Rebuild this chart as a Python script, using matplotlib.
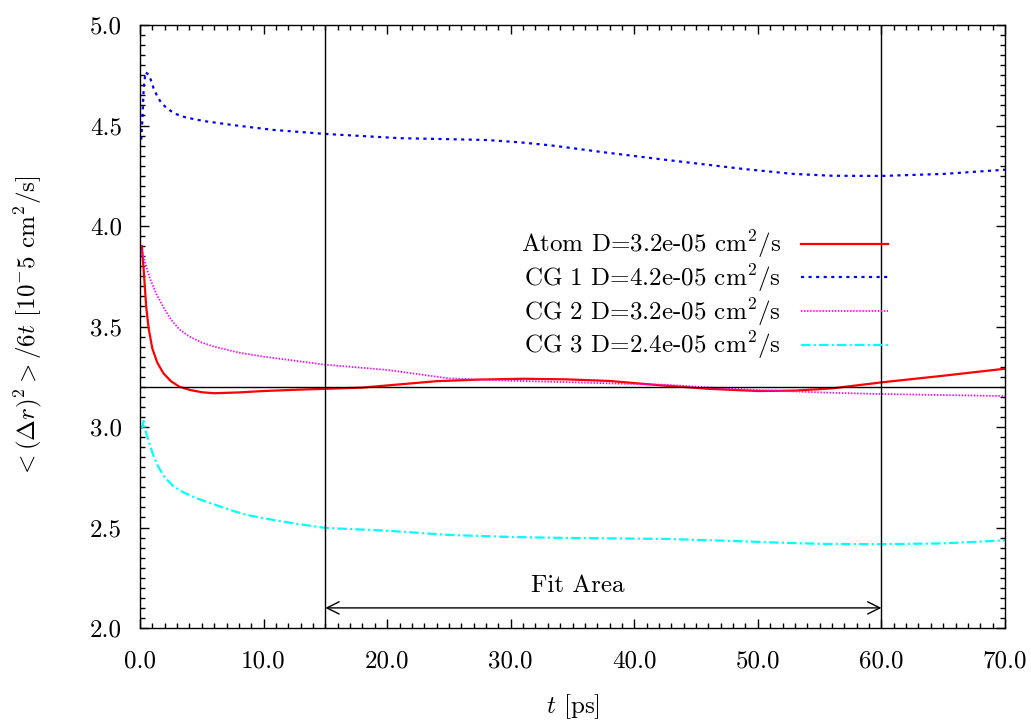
import numpy as np
import matplotlib
matplotlib.use('Agg')
import matplotlib.pyplot as plt
from matplotlib import rcParams
from matplotlib.ticker import MultipleLocator, FormatStrFormatter

rcParams['font.family'] = 'serif'
rcParams['font.serif'] = ['cmr10', 'DejaVu Serif']
rcParams['mathtext.fontset'] = 'cm'
rcParams['axes.formatter.use_mathtext'] = True
rcParams['font.size'] = 18

# Atom
t_atom = [0.15, 0.3, 0.5, 0.7, 1.0, 1.4, 1.9, 2.5, 3.2, 4.0, 5.0, 6.0, 8.0, 10.0, 12.5, 15.0,
          18.0, 21.0, 24.0, 27.5, 31.0, 34.5, 38.0, 42.0, 46.0, 50.0, 53.0, 56.0, 60.0, 65.0, 70.0]
d_atom = [3.90, 3.78, 3.60, 3.49, 3.39, 3.32, 3.267, 3.228, 3.20, 3.185, 3.173, 3.168, 3.172, 3.179, 3.185, 3.19,
          3.196, 3.212, 3.228, 3.236, 3.24, 3.237, 3.229, 3.208, 3.19, 3.179, 3.181, 3.192, 3.222, 3.255, 3.29]

# CG 1
t_cg1 = [0.1, 0.2, 0.3, 0.45, 0.75, 1.1, 1.4, 1.7, 2.1, 2.5, 3.0, 3.6, 4.5, 5.4, 7.8, 10.8, 15.0, 21.0, 28.0, 30.8,
         33.4, 37.5, 42.3, 48.8, 52.9, 56.0, 60.0, 65.0, 70.0]
d_cg1 = [4.43, 4.54, 4.69, 4.765, 4.75, 4.685, 4.645, 4.615, 4.59, 4.572, 4.555, 4.542, 4.53, 4.52, 4.50, 4.478,
         4.458, 4.437, 4.428, 4.416, 4.40, 4.367, 4.331, 4.284, 4.259, 4.25, 4.249, 4.259, 4.28]

# CG 2
t_cg2 = [0.15, 0.4, 0.8, 1.3, 1.9, 2.5, 3.2, 4.0, 5.0, 6.0, 8.0, 10.0, 12.5, 15.0, 20.0, 25.0, 30.0,
         33.4, 38.0, 42.6, 46.0, 50.0, 55.0, 60.0, 65.0, 70.0]
d_cg2 = [3.88, 3.82, 3.74, 3.665, 3.595, 3.535, 3.485, 3.45, 3.42, 3.40, 3.37, 3.35, 3.33, 3.31, 3.284, 3.242, 3.23,
         3.225, 3.217, 3.21, 3.197, 3.184, 3.172, 3.164, 3.159, 3.154]

# CG 3
t_cg3 = [0.15, 0.3, 0.5, 0.8, 1.1, 1.5, 2.0, 2.7, 3.5, 4.6, 6.0, 7.3, 8.5, 10.0, 12.5, 15.0, 20.0, 25.0,
         30.0, 33.4, 38.0, 42.6, 47.5, 52.0, 55.6, 60.0, 65.0, 70.0]
d_cg3 = [2.99, 3.03, 2.97, 2.91, 2.855, 2.80, 2.75, 2.705, 2.675, 2.645, 2.615, 2.587, 2.565, 2.546, 2.52, 2.498,
         2.484, 2.463, 2.453, 2.449, 2.446, 2.443, 2.434, 2.424, 2.418, 2.417, 2.421, 2.436]

labels = [r'Atom D=3.2e-05 cm$^2$/s', r'CG 1 D=4.2e-05 cm$^2$/s',
          r'CG 2 D=3.2e-05 cm$^2$/s', r'CG 3 D=2.4e-05 cm$^2$/s']

d_fit = 3.2
fit_start, fit_end = 15.0, 60.0

fig = plt.figure(figsize=(10.31, 7.24), dpi=100)
ax = fig.add_axes([140/1031., 1 - 628/724., 865/1031., 603/724.])

ax.plot(t_atom, d_atom, '-', color='#ff0000', lw=1.6, label=labels[0])
ax.plot(t_cg1, d_cg1, color='#0000ff', lw=1.6, dashes=(1.4, 2.0), label=labels[1])
ax.plot(t_cg2, d_cg2, color='#ff00ff', lw=1.3, dashes=(0.8, 0.9), label=labels[2])
ax.plot(t_cg3, d_cg3, color='#00ffff', lw=1.6, dashes=(4.3, 1.4, 1.0, 1.4), label=labels[3])

ax.axhline(d_fit, color='k', lw=1.0)
ax.axvline(fit_start, color='k', lw=1.0)
ax.axvline(fit_end, color='k', lw=1.0)
ax.annotate('', xy=(fit_start, 2.1), xytext=(fit_end, 2.1),
            arrowprops=dict(arrowstyle='<->', color='k', lw=1.0, shrinkA=0, shrinkB=0,
                            mutation_scale=22))
ax.text(35.4, 2.21, 'Fit Area', ha='center', va='center')

ax.set_xlim(0, 70)
ax.set_ylim(2.0, 5.0)
ax.xaxis.set_major_locator(MultipleLocator(10))
ax.xaxis.set_minor_locator(MultipleLocator(1))
ax.yaxis.set_major_locator(MultipleLocator(0.5))
ax.yaxis.set_minor_locator(MultipleLocator(0.05))
ax.xaxis.set_major_formatter(FormatStrFormatter('%.1f'))
ax.yaxis.set_major_formatter(FormatStrFormatter('%.1f'))
ax.tick_params(which='both', direction='in', top=True, right=True, width=1.0)
ax.tick_params(which='major', length=6.5)
ax.tick_params(which='minor', length=3.5)
ax.tick_params(axis='x', which='major', pad=16)
ax.tick_params(axis='y', which='major', pad=13)
for s in ax.spines.values():
    s.set_linewidth(1.0)

ax.set_xlabel(r'$t$ [ps]', labelpad=14)
ax.set_ylabel(r'$<(\Delta r)^2>/6t$ [10$^{-}$5 cm$^2$/s]', labelpad=33)

ax.legend(loc='upper right', bbox_to_anchor=(0.865, 0.662), frameon=False, markerfirst=False,
          handlelength=3.5, handletextpad=0.8, labelspacing=0.08, borderpad=0, borderaxespad=0)

fig.savefig('out.png', dpi=100)
